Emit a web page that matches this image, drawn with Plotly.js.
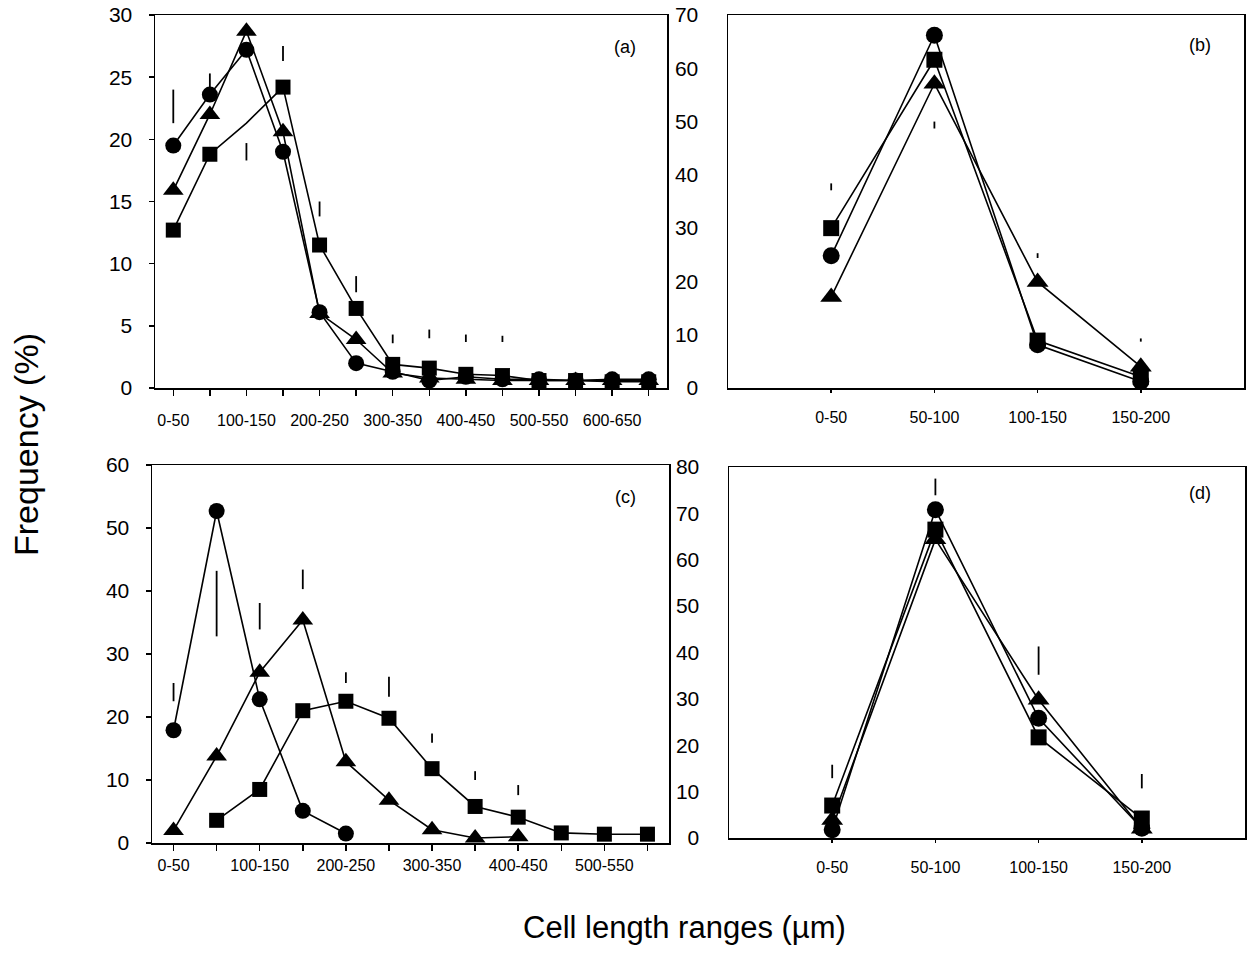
<!DOCTYPE html>
<html>
<head>
<meta charset="utf-8">
<script src="https://cdn.plot.ly/plotly-3.0.1.min.js"></script>
<style>html,body{margin:0;padding:0;background:#fff;}#chart{width:1250px;height:959px;}</style>
</head>
<body>
<div id="chart"></div>
<script>
// ---------- DATA ----------
var catsA = ['0-50','50-100','100-150','150-200','200-250','250-300','300-350','350-400','400-450','450-500','500-550','550-600','600-650','650-700'];
var ticksA = ['0-50','','100-150','','200-250','','300-350','','400-450','','500-550','','600-650',''];
var aCircle   = [19.5, 23.6, 27.2, 19.0, 6.1, 2.0, 1.3, 0.6, 0.9, 0.7, 0.7, 0.6, 0.7, 0.7];
var aTriangle = [15.9, 22.0, 28.7, 20.6, 6.0, 3.9, 1.2, 0.8, 0.7, 0.6, 0.6, 0.6, 0.6, 0.6];
var aSquare   = [12.7, 18.8, 21.3, 24.2, 11.5, 6.4, 1.9, 1.6, 1.1, 1.0, 0.6, 0.6, 0.5, 0.5];
var aSquareMarked = [true, true, false, true, true, true, true, true, true, true, true, true, true, true];
var aErrLow  = [21.3, 24.1, 18.3, 26.3, 13.8, 7.7, 3.6, 4.0, 3.7, 3.7, null, null, null, null];
var aErrHigh = [24.0, 25.3, 19.7, 27.5, 15.0, 9.0, 4.3, 4.7, 4.3, 4.2, null, null, null, null];

var catsB = ['0-50','50-100','100-150','150-200'];
var bCircle   = [24.8, 66.2, 8.1, 1.2];
var bSquare   = [30.0, 61.6, 8.9, 2.1];
var bTriangle = [17.1, 57.1, 19.9, 4.0];
var bErrLow  = [37.1, 48.7, 24.4, 8.7];
var bErrHigh = [38.4, 50.0, 25.3, 9.3];

var catsC = ['0-50','50-100','100-150','150-200','200-250','250-300','300-350','350-400','400-450','450-500','500-550','550-600'];
var ticksC = ['0-50','','100-150','','200-250','','300-350','','400-450','','500-550',''];
var cCircle   = [17.9, 52.7, 22.8, 5.1, 1.5, null, null, null, null, null, null, null];
var cTriangle = [2.0, 13.8, 27.1, 35.4, 12.9, 6.8, 2.1, 0.8, 1.0, null, null, null];
var cSquare   = [null, 3.6, 8.5, 21.0, 22.5, 19.8, 11.8, 5.8, 4.1, 1.6, 1.4, 1.4];
var cErrLow  = [22.5, 32.8, 33.9, 40.3, 25.4, 23.2, 15.9, 10.0, 7.6, null, null, null];
var cErrHigh = [25.4, 43.2, 38.1, 43.4, 27.1, 26.4, 17.4, 11.4, 9.2, null, null, null];

var catsD = ['0-50','50-100','100-150','150-200'];
var dCircle   = [1.8, 70.8, 25.8, 2.1];
var dSquare   = [7.0, 66.5, 21.7, 4.2];
var dTriangle = [3.9, 64.4, 29.8, 2.0];
var dErrLow  = [12.9, 73.9, 35.2, 10.7];
var dErrHigh = [15.8, 77.5, 41.3, 13.8];

// ---------- BUILD ----------
var FONT = 'Liberation Sans, Arial, Helvetica, sans-serif';
var W = 1250, H = 959;
function dx(a, b) { return [a / W, b / W]; }
function dy(top, bottom) { return [1 - bottom / H, 1 - top / H]; }

var traces = [];
function series(cats, vals, symbol, size, ax, marked) {
  var sizes = cats.map(function (c, i) { return (marked && !marked[i]) ? 0 : size; });
  traces.push({
    type: 'scatter', mode: 'lines+markers', x: cats, y: vals,
    xaxis: 'x' + ax, yaxis: 'y' + ax, showlegend: false, hoverinfo: 'x+y',
    line: {color: '#000', width: 1.6},
    marker: {symbol: symbol, size: sizes, color: '#000', opacity: 1, line: {width: 0}}
  });
}
function errs(cats, lo, hi, ax) {
  var mid = lo.map(function (v, i) { return v === null ? null : (v + hi[i]) / 2; });
  var half = lo.map(function (v, i) { return v === null ? null : (hi[i] - v) / 2; });
  traces.push({
    type: 'scatter', mode: 'markers', x: cats, y: mid,
    xaxis: 'x' + ax, yaxis: 'y' + ax, showlegend: false, hoverinfo: 'skip',
    marker: {size: 1, opacity: 0, color: '#000'},
    error_y: {type: 'data', array: half, symmetric: true, width: 0, thickness: 1.8, color: '#000'}
  });
}

series(catsA, aSquare, 'square', 15, '', aSquareMarked);
series(catsA, aTriangle, 'triangle-up', 18, '');
series(catsA, aCircle, 'circle', 16, '');
errs(catsA, aErrLow, aErrHigh, '');

series(catsB, bSquare, 'square', 16, '2');
series(catsB, bTriangle, 'triangle-up', 19, '2');
series(catsB, bCircle, 'circle', 17, '2');
errs(catsB, bErrLow, bErrHigh, '2');

series(catsC, cSquare, 'square', 15, '3');
series(catsC, cTriangle, 'triangle-up', 18, '3');
series(catsC, cCircle, 'circle', 16, '3');
errs(catsC, cErrLow, cErrHigh, '3');

series(catsD, dSquare, 'square', 16, '4');
series(catsD, dTriangle, 'triangle-up', 19, '4');
series(catsD, dCircle, 'circle', 17, '4');
errs(catsD, dErrLow, dErrHigh, '4');

function xax(dom, anchor, cats, text, range, tlen, standoff) {
  return {
    domain: dom, anchor: anchor, type: 'category', range: range,
    tickmode: 'array', tickvals: cats, ticktext: text,
    showline: true, mirror: true, linecolor: '#000', linewidth: 1.5,
    ticks: 'outside', ticklen: tlen, tickwidth: 1.5, tickcolor: '#000',
    ticklabelstandoff: standoff,
    showgrid: false, zeroline: false, fixedrange: true,
    tickfont: {family: FONT, size: 16, color: '#000'}
  };
}
function yax(dom, anchor, range, dtick, tlen, standoff) {
  return {
    domain: dom, anchor: anchor, range: range, dtick: dtick, tick0: 0,
    showline: true, mirror: true, linecolor: '#000', linewidth: 1.5,
    ticks: tlen > 0 ? 'outside' : '', ticklen: tlen, tickwidth: 1.5, tickcolor: '#000',
    ticklabelstandoff: standoff,
    showgrid: false, zeroline: false, fixedrange: true,
    tickfont: {family: FONT, size: 21, color: '#000'}
  };
}

function label(txt, px, py) {
  return {text: txt, xref: 'paper', yref: 'paper', x: px / W, y: 1 - py / H,
    xanchor: 'center', yanchor: 'middle', showarrow: false,
    font: {family: FONT, size: 18, color: '#000'}};
}

var layout = {
  width: W, height: H, margin: {l: 0, r: 0, t: 0, b: 0},
  paper_bgcolor: '#fff', plot_bgcolor: '#fff', showlegend: false,
  xaxis:  xax(dx(155, 667), 'y',  catsA, ticksA, [-0.5, 13.5], 6, 11),
  yaxis:  yax(dy(15, 388), 'x', [0, 30], 5, 5, 12),
  xaxis2: xax(dx(728, 1244), 'y2', catsB, catsB, [-1, 4], 3, 11),
  yaxis2: yax(dy(15, 388), 'x2', [0, 70], 10, 0, 24),
  xaxis3: xax(dx(152, 669), 'y3', catsC, ticksC, [-0.5, 11.5], 6, 1),
  yaxis3: yax(dy(465, 843), 'x3', [0, 60], 10, 5, 12),
  xaxis4: xax(dx(729, 1245), 'y4', catsD, catsD, [-1, 4], 3, 11),
  yaxis4: yax(dy(467, 838), 'x4', [0, 80], 10, 0, 24),
  annotations: [
    label('(a)', 625, 47), label('(b)', 1200, 45),
    label('(c)', 625, 497), label('(d)', 1200, 493),
    {text: 'Frequency (%)', xref: 'paper', yref: 'paper', x: 26 / W, y: 1 - 445 / H,
      xanchor: 'center', yanchor: 'middle', textangle: -90, showarrow: false,
      font: {family: FONT, size: 34, color: '#000'}},
    {text: 'Cell length ranges (µm)', xref: 'paper', yref: 'paper', x: 684 / W, y: 1 - 927 / H,
      xanchor: 'center', yanchor: 'middle', showarrow: false,
      font: {family: FONT, size: 31, color: '#000'}}
  ]
};

Plotly.newPlot('chart', traces, layout, {displayModeBar: false, staticPlot: true});
</script>
</body>
</html>
